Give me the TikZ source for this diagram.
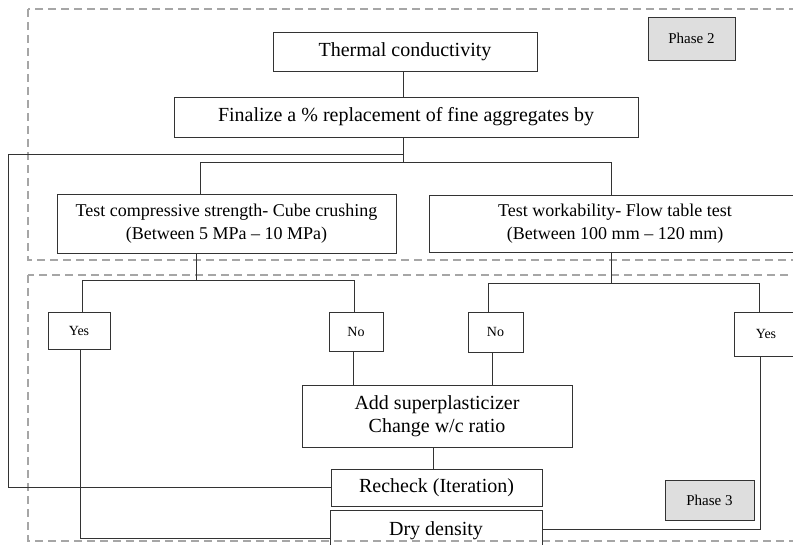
\documentclass[tikz,border=0pt]{standalone}
\usepackage{fontspec}
\setmainfont{Liberation Serif}

\begin{document}
\begin{tikzpicture}[
        x=1pt, y=-1pt,
        caja/.style={draw=black!80, line width=0.9pt, inner sep=0pt, align=center, font=\fontsize{20}{23}\selectfont},
        test/.style={caja, font=\fontsize{18}{23}\selectfont},
        decision/.style={caja, font=\fontsize{14}{16}\selectfont},
        fase/.style={caja, fill=black!13, font=\fontsize{15}{17}\selectfont},
        zona/.style={draw=black!35, line width=1.6pt, dash pattern=on 8pt off 5pt},
        linea/.style={draw=black!80, line width=0.9pt}
    ]
        \clip (0,0) rectangle (793,545);

        % Fases
        \draw[zona] (28,9) rectangle (805,260);
        \draw[zona] (28,275) rectangle (805,541);

        % Nodos
        \node[caja, minimum width=264, minimum height=39] (therm) at (405,51.5) {Thermal conductivity};
        \node[caja, minimum width=464, minimum height=40] (final) at (406,117) {Finalize a \% replacement of fine aggregates by};
        \node[test, minimum width=339, minimum height=59] (comp) at (226.5,223.5) {Test compressive strength- Cube crushing\\(Between 5 MPa -- 10 MPa)};
        \node[test, minimum width=372, minimum height=57] (work) at (615,223.5) {Test workability- Flow table test\\(Between 100 mm -- 120 mm)};
        \node[decision, minimum width=62, minimum height=37] (yes1) at (79,330.5) {Yes};
        \node[decision, minimum width=54, minimum height=39] (no1) at (356,331.5) {No};
        \node[decision, minimum width=55, minimum height=40] (no2) at (495.5,332) {No};
        \node[decision, minimum width=64, minimum height=44] (yes2) at (766,334) {Yes};
        \node[caja, minimum width=270, minimum height=62] (add) at (437,416) {Add superplasticizer\\Change w/c ratio};
        \node[caja, minimum width=211, minimum height=37] (recheck) at (436.5,487.5) {Recheck (Iteration)};
        \node[caja, minimum width=212, minimum height=42] (dry) at (436,531) {Dry density};
        \node[fase, minimum width=87, minimum height=43] (ph2) at (691.5,38.5) {Phase 2};
        \node[fase, minimum width=89, minimum height=40] (ph3) at (709.5,500) {Phase 3};

        % Conexiones
        \draw[linea] ([xshift=-2pt]therm.south) -- ([xshift=-3pt]final.north);
        \draw[linea] ([xshift=-3pt]final.south) -- ++(0,25) coordinate (fb);
        \draw[linea] ([xshift=-26.5pt]comp.north) |- (fb) -| ([xshift=-4pt]work.north);
        \coordinate (lp) at (8,154);
        \draw[linea] (recheck.west) -| (lp) -- ([xshift=1pt]fb |- lp);

        \draw[linea] ([xshift=-30.5pt]comp.south) -- ++(0,27) coordinate (cb);
        \draw[linea] ([xshift=3pt]yes1.north) |- (cb) -| ([xshift=-2pt]no1.north);
        \draw[linea] ([xshift=-4pt]work.south) -- ++(0,31) coordinate (wb);
        \draw[linea] ([xshift=-7.5pt]no2.north) |- (wb) -| ([xshift=-7pt]yes2.north);

        \draw[linea] ([xshift=-3pt]no1.south) -- ([xshift=-3pt]no1.south |- add.north);
        \draw[linea] ([xshift=-3.5pt]no2.south) -- ([xshift=-3.5pt]no2.south |- add.north);
        \draw[linea] ([xshift=-4pt]add.south) -- ([xshift=-4pt]add.south |- recheck.north);
        \draw[linea] ([xshift=1pt]yes1.south) |- ([yshift=-7pt]dry.west);
        \draw[linea] ([xshift=-6pt]yes2.south) |- ([yshift=2pt]dry.east);
    \end{tikzpicture}
\end{document}
